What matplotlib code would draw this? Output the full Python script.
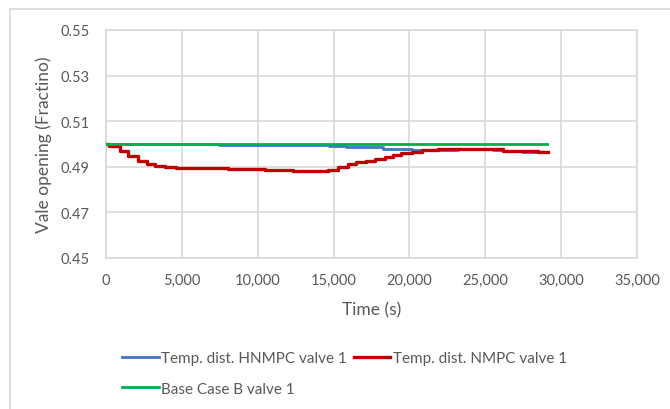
import matplotlib.pyplot as plt
from matplotlib.lines import Line2D

# Dados (tempo em s, abertura da válvula)
t_base = [0, 29100]
v_base = [0.5, 0.5]

t_hnmpc = [0, 7450, 14700, 15800, 16500, 18250, 20150, 21900, 23200, 25500, 26200, 27400, 28500, 29100]
v_hnmpc = [0.5, 0.4994, 0.4990, 0.4987, 0.4985, 0.4979, 0.4975, 0.4974, 0.4976, 0.4975, 0.4970, 0.4967, 0.4964, 0.4964]

t_nmpc = [0, 200, 920, 1470, 2130, 2680, 3230, 3890, 4610, 8060, 10480, 12340, 14100, 14650,
          15300, 15960, 16510, 17170, 17720, 18380, 18930, 19470, 20140, 20800, 21890, 23210,
          25510, 26170, 27380, 28470, 29130]
v_nmpc = [0.5, 0.4990, 0.4968, 0.4946, 0.4924, 0.4912, 0.4905, 0.4898, 0.4893, 0.4890, 0.4887,
          0.4883, 0.4880, 0.4887, 0.4901, 0.4912, 0.4920, 0.4927, 0.4934, 0.4944, 0.4953, 0.4959,
          0.4966, 0.4972, 0.4976, 0.4978, 0.4976, 0.4971, 0.4968, 0.4965, 0.4964]

x_ticks = [0, 5000, 10000, 15000, 20000, 25000, 30000, 35000]
y_ticks = [0.45, 0.47, 0.49, 0.51, 0.53, 0.55]

plt.rcParams['font.family'] = ['Lato', 'DejaVu Sans']
gray_text = '#595959'
gray_line = '#D9D9D9'

fig = plt.figure(figsize=(6.7, 4.1), dpi=100)
ax = fig.add_axes([0.1582, 0.3683, 0.7925, 0.5561])

# moldura externa do gráfico (cortada à direita e em baixo)
fig.add_artist(Line2D([10 / 670, 10 / 670], [0, 1 - 10 / 410], transform=fig.transFigure,
                      color=gray_line, lw=1.2))
fig.add_artist(Line2D([10 / 670, 1], [1 - 10 / 410, 1 - 10 / 410], transform=fig.transFigure,
                      color=gray_line, lw=1.2))

ax.plot(t_hnmpc, v_hnmpc, drawstyle='steps-post', color='#4472C4', lw=2.0,
        label='Temp. dist. HNMPC valve 1', zorder=3)
ax.plot(t_nmpc, v_nmpc, drawstyle='steps-post', color='#C00000', lw=2.4,
        label='Temp. dist. NMPC valve 1', zorder=4)
ax.plot(t_base, v_base, color='#00B050', lw=2.0, label='Base Case B valve 1', zorder=5)

ax.set_xlim(0, 35000)
ax.set_ylim(0.45, 0.55)
ax.set_xticks(x_ticks)
ax.set_xticklabels([f'{v:,}' for v in x_ticks])
ax.set_yticks(y_ticks)
ax.set_yticklabels([f'{v:.2f}' for v in y_ticks])
ax.grid(True, color=gray_line, lw=1.2)
ax.set_axisbelow(True)
for s in ax.spines.values():
    s.set_color(gray_line)
    s.set_linewidth(1.2)
ax.tick_params(axis='y', length=0, labelsize=10.5, colors=gray_text, pad=12)
ax.tick_params(axis='x', length=0, labelsize=10.5, colors=gray_text, pad=11)

ax.set_xlabel('Time (s)', fontsize=12.5, color=gray_text, labelpad=10)
ax.set_ylabel('Vale opening (Fractino)', fontsize=12.5, color=gray_text, labelpad=6)

handles, labels = ax.get_legend_handles_labels()
order = [0, 2, 1]
fig.legend([handles[i] for i in order], [labels[i] for i in order],
           loc='upper left', bbox_to_anchor=(122 / 670, 1 - 352 / 410), ncol=2,
           frameon=False, fontsize=11, labelcolor=gray_text, handlelength=2.4,
           handletextpad=0.15, columnspacing=0.45, labelspacing=1.1, borderaxespad=0,
           borderpad=0)

fig.savefig('out.png', dpi=100)
